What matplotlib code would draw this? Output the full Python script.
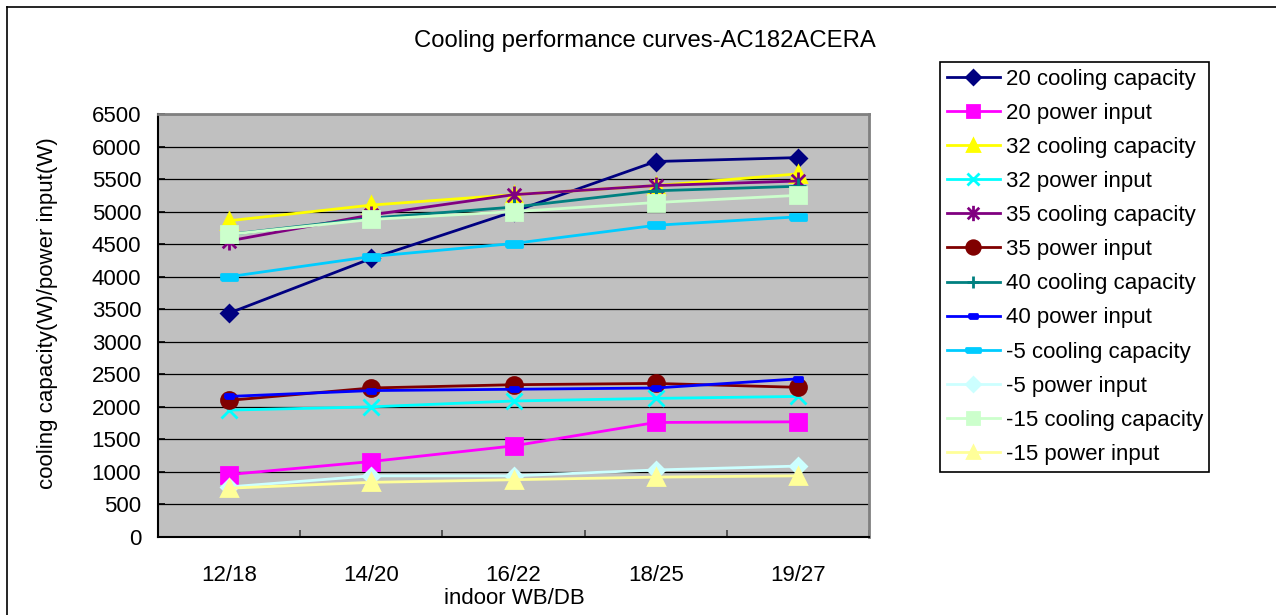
import matplotlib
matplotlib.use("Agg")
import matplotlib.pyplot as plt
from matplotlib.path import Path
from matplotlib.lines import Line2D
import numpy as np

plt.rcParams['font.family'] = ['Liberation Sans', 'DejaVu Sans']

categories = ['12/18', '14/20', '16/22', '18/25', '19/27']

cap_20 = [3440, 4280, 5000, 5770, 5830]
pow_20 = [960, 1160, 1400, 1760, 1770]
cap_32 = [4860, 5100, 5260, 5400, 5580]
pow_32 = [1950, 2000, 2090, 2130, 2160]
cap_35 = [4550, 4950, 5260, 5400, 5470]
pow_35 = [2100, 2290, 2340, 2360, 2300]
cap_40 = [4650, 4900, 5070, 5320, 5390]
pow_40 = [2160, 2250, 2270, 2290, 2430]
cap_m5 = [4000, 4310, 4510, 4790, 4920]
pow_m5 = [770, 940, 940, 1030, 1090]
cap_m15 = [4650, 4880, 5000, 5140, 5250]
pow_m15 = [750, 840, 880, 920, 940]

# excel-like markers
star = Path([(0, -1), (0, 1), (-0.75, -0.75), (0.75, 0.75), (-0.75, 0.75), (0.75, -0.75)],
            [Path.MOVETO, Path.LINETO] * 3)
dash_small = [(-1, -0.55), (1, -0.55), (1, 0.55), (-1, 0.55), (-1, -0.55)]
dash_wide = [(-1, -0.35), (1, -0.35), (1, 0.35), (-1, 0.35), (-1, -0.35)]

series = [
    ('20 cooling capacity', cap_20, '#000080', 'D', 8),
    ('20 power input', pow_20, '#FF00FF', 's', 11),
    ('32 cooling capacity', cap_32, '#FFFF00', '^', 11),
    ('32 power input', pow_32, '#00FFFF', 'x', 11),
    ('35 cooling capacity', cap_35, '#800080', star, 13),
    ('35 power input', pow_35, '#800000', 'o', 11.5),
    ('40 cooling capacity', cap_40, '#008080', '+', 11),
    ('40 power input', pow_40, '#0000FF', dash_small, 6),
    ('-5 cooling capacity', cap_m5, '#00CCFF', dash_wide, 11.5),
    ('-5 power input', pow_m5, '#CCFFFF', 'D', 8),
    ('-15 cooling capacity', cap_m15, '#CCFFCC', 's', 11),
    ('-15 power input', pow_m15, '#FFFF99', '^', 11),
]

fig = plt.figure(figsize=(12.76, 6.15), dpi=100)
ax = fig.add_axes([158 / 1276, 1 - 537 / 615, 711 / 1276, 423 / 615])
ax.set_facecolor('#C0C0C0')

x = np.arange(len(categories))
for label, vals, col, mk, ms in series:
    ax.plot(x, vals, color=col, lw=2, marker=mk, ms=ms, mfc=col, mec=col, mew=2,
            label=label, clip_on=False)

ax.set_xlim(-0.5, 4.5)
ax.set_ylim(0, 6500)
ax.set_yticks(np.arange(0, 6501, 500))
ax.set_xticks(x)
ax.set_xticklabels(categories)
ax.set_xticks(np.arange(-0.5, 4.6, 1), minor=True)
ax.tick_params(axis='x', which='major', length=0, pad=20, labelsize=16)
ax.tick_params(axis='x', which='minor', direction='in', length=5, width=1.2, color='#404040')
ax.tick_params(axis='y', direction='in', length=5, width=1.2, pad=12, labelsize=16)
ax.yaxis.grid(True, color='black', lw=0.9)
ax.set_axisbelow(True)
for s in ['top', 'right']:
    ax.spines[s].set_color('#808080')
    ax.spines[s].set_linewidth(2)
for s in ['left', 'bottom']:
    ax.spines[s].set_color('black')
    ax.spines[s].set_linewidth(1.5)

fig.text(645 / 1276, 1 - 41 / 615, 'Cooling performance curves-AC182ACERA',
         ha='center', va='center', fontsize=17.2)
fig.text(48 / 1276, 1 - 313 / 615, 'cooling capacity(W)/power input(W)',
         ha='center', va='center', rotation=90, fontsize=16)
fig.text(514 / 1276, 1 - 598 / 615, 'indoor WB/DB', ha='center', va='center', fontsize=16)

leg = fig.legend(loc='upper left', bbox_to_anchor=(940 / 1276, 1 - 62 / 615),
                 borderaxespad=0, fontsize=16, labelspacing=0.59, handlelength=2.4,
                 handletextpad=0.25, borderpad=0.3, fancybox=False, framealpha=1,
                 markerscale=0.85)
leg.get_frame().set_edgecolor('black')
leg.get_frame().set_linewidth(1.2)

# outer chart border (cropped at right and bottom)
fig.add_artist(Line2D([7 / 1276, 7 / 1276], [0, 1 - 7 / 615], color='black', lw=1.2))
fig.add_artist(Line2D([7 / 1276, 1], [1 - 7 / 615, 1 - 7 / 615], color='black', lw=1.2))

fig.savefig('out.png', dpi=100)
